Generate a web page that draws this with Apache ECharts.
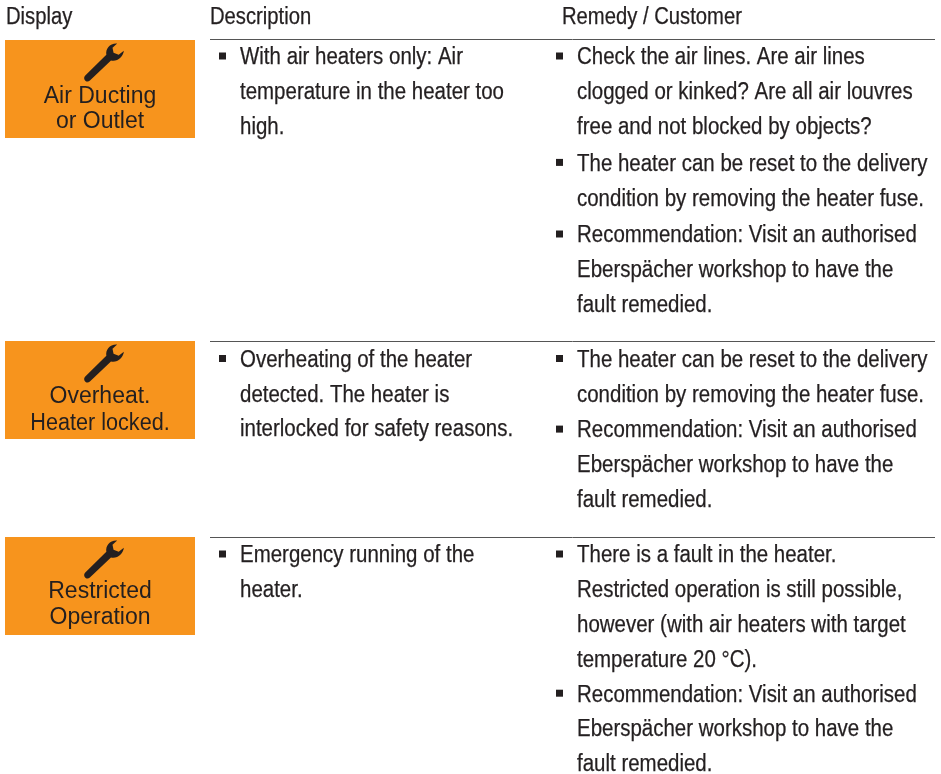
<!DOCTYPE html>
<html><head><meta charset="utf-8">
<style>html,body{margin:0;padding:0;background:#fff}#c{width:941px;height:774px}</style>
<script src="https://cdn.jsdelivr.net/npm/echarts@6/dist/echarts.min.js"></script>
</head><body><div id="c"></div>
<script>
const headers = ["Display", "Description", "Remedy / Customer"];
const displayLabels = [["Air Ducting", "or Outlet"], ["Overheat.", "Heater locked."], ["Restricted", "Operation"]];
const descriptions = [
  [["With air heaters only: Air", "temperature in the heater too", "high."]],
  [["Overheating of the heater", "detected. The heater is", "interlocked for safety reasons."]],
  [["Emergency running of the", "heater."]]
];
const remedies = [
  [["Check the air lines. Are air lines", "clogged or kinked? Are all air louvres", "free and not blocked by objects?"],
   ["The heater can be reset to the delivery", "condition by removing the heater fuse."],
   ["Recommendation: Visit an authorised", "Eberspächer workshop to have the", "fault remedied."]],
  [["The heater can be reset to the delivery", "condition by removing the heater fuse."],
   ["Recommendation: Visit an authorised", "Eberspächer workshop to have the", "fault remedied."]],
  [["There is a fault in the heater.", "Restricted operation is still possible,", "however (with air heaters with target", "temperature 20 °C)."],
   ["Recommendation: Visit an authorised", "Eberspächer workshop to have the", "fault remedied."]]
];

// layout
const FONT = '"Liberation Sans",Arial,sans-serif';
const INK = '#231f20', ORANGE = '#f7941d';
const rowTops = [39, 341, 537];
const firstLine = [19, 19.5, 19];
const PITCH = 34.8, gaps = [2, 1, 0];
const SIZE = 23, SX = 0.89, HEAD_SX = 0.88;
const labelOffsets = [[57, 82], [56, 83], [55, 81]];
const labelScale = [[1, 1], [1, 0.94], [1, 1]];
const WRENCH = 'M117 44C110 43.5 105.5 49 106.5 55L86 75C83 78 87 83 90.5 80L111 60.5C117 62 123 57 123.5 51L118.5 55L113.5 53L112.5 48Z';

const g = [];
function txt(s, x, y, size, sx, align, heavy) {
  g.push({type:'text', x, y, scaleX:sx, silent:true, z:5, style:{text:s, x:0, y:0, fill:INK,
    stroke: heavy ? INK : null, lineWidth: heavy ? 0.25 : 0,
    font:`${size}px ${FONT}`, textAlign:align||'left', textVerticalAlign:'middle'}});
}
txt(headers[0], 6, 18, SIZE, HEAD_SX, 'left', true);
txt(headers[1], 210, 18, SIZE, HEAD_SX, 'left', true);
txt(headers[2], 562, 18, SIZE, HEAD_SX, 'left', true);

function column(blocks, top, i, bx, tx) {
  let y = top + firstLine[i];
  blocks.forEach(b => {
    g.push({type:'rect', silent:true, shape:{x:bx, y:y-5.5, width:7, height:7}, style:{fill:INK}});
    b.forEach(l => { txt(l, tx, y, SIZE, SX, 'left', true); y += PITCH; });
    y += gaps[i];
  });
}
const boxTops = rowTops.map((t, i) => i === 0 ? t + 1 : t);
rowTops.forEach((t, i) => {
  g.push({type:'line', silent:true, shape:{x1:210, y1:t+0.5, x2:935, y2:t+0.5}, style:{stroke:'#555', lineWidth:1}});
  g.push({type:'rect', silent:true, shape:{x:5, y:boxTops[i], width:190, height:98}, style:{fill:ORANGE}});
  displayLabels[i].forEach((l, k) => txt(l, 100, boxTops[i] + labelOffsets[i][k], 23, labelScale[i][k], 'center', false));
  column(descriptions[i], t, i, 219, 240);
  column(remedies[i], t, i, 556, 577);
});
const chart = echarts.init(document.getElementById('c'), null, {renderer:'canvas'});
chart.setOption({
  animation:false, backgroundColor:'#fff', graphic:{elements:g},
  series:[{
    type:'custom', coordinateSystem:'none', silent:true, z:10,
    data: boxTops.map((t, i) => [i]),
    renderItem:(p, api) => ({
      type:'path',
      shape:{pathData:WRENCH, x:84, y:boxTops[api.value(0)]+3.5, width:40, height:38},
      style:{fill:INK}
    })
  }]
});
</script></body></html>
